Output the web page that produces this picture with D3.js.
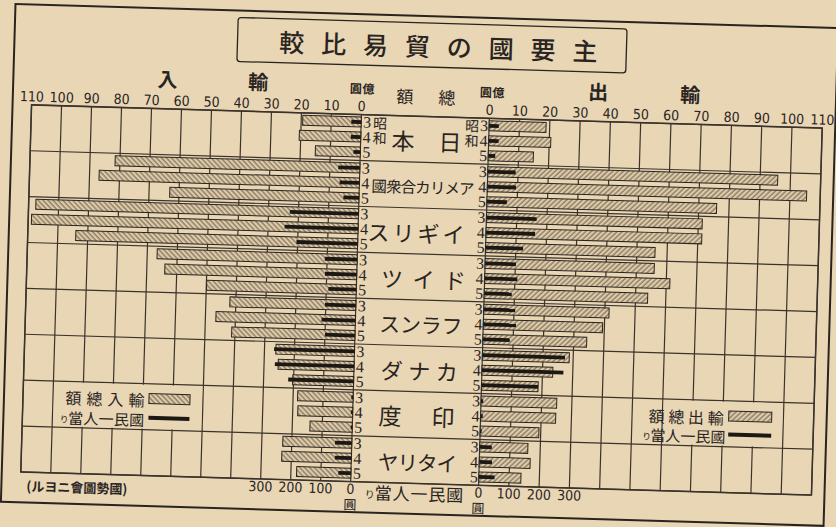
<!DOCTYPE html>
<html><head><meta charset="utf-8">
<script src="https://cdn.jsdelivr.net/npm/d3@7"></script>
<style>body{margin:0;background:#e8d6b5;} svg{display:block}</style>
</head><body><svg id="c" width="836" height="527"></svg>
<script>
// ---------- DATA ----------
const countries = ["本日","國衆合カリメア","スリギイ","ツイド","スンラフ","ダナカ","度印","ヤリタイ"];
const years = ["3","4","5"];
// 輸入總額 (億圓)
const importTotal = [[19.5,20.5,15.0],[81.6,86.8,63.1],[107.6,108.9,94.0],[66.7,64.0,49.9],[42.0,46.5,41.1],[26.2,25.3,20.3],[18.5,18.3,14.1],[23.0,23.2,18.1]];
// 輸出總額 (億圓)
const exportTotal = [[18.8,20.5,14.9],[95.8,105.5,75.9],[71.3,71.3,56.0],[55.9,61.2,54.0],[41.4,39.4,34.3],[28.7,23.4,18.7],[25.0,24.8,19.4],[15.9,16.8,13.9]];
// 國民一人當り (圓)
const importPerCap = [[33,33,23],[72,66,52],[229,245,204],[108,106,93],[103,113,100],[268,264,218],[6,6,5],[56,55,42]];
const exportPerCap = [[32,33,23],[92,95,66],[166,162,124],[102,108,91],[104,108,89],[273,269,187],[7,7,5],[40,42,52]];
const totalTicks = [0,10,20,30,40,50,60,70,80,90,100,110];
const perCapTicks = [0,100,200,300];

// ---------- LAYOUT ----------
const W=836,H=527, paper="#e8d6b5", ink="#2a241f", grid="#3b332b";
const plotTop=116.4, plotBot=483.6, plotL=26, plotR=817, zeroL=356, zeroR=484;
const jp='"Noto Sans CJK JP","Noto Sans CJK TC",sans-serif';
const num='"DejaVu Sans Condensed","DejaVu Sans",sans-serif';
const serif='"Liberation Serif","DejaVu Serif",serif';

const svg=d3.select("#c");
svg.append("rect").attr("width",W).attr("height",H).attr("fill",paper);
const defs=svg.append("defs");
function hatch(id,angle){
  const p=defs.append("pattern").attr("id",id).attr("patternUnits","userSpaceOnUse")
    .attr("width",3.6).attr("height",3.6).attr("patternTransform",`rotate(${angle})`);
  p.append("rect").attr("width",3.6).attr("height",3.6).attr("fill","#dfcba8");
  p.append("line").attr("x1",1).attr("x2",1).attr("y1",0).attr("y2",3.6).attr("stroke","#5d5144").attr("stroke-width",0.9);
}
hatch("hL",-45); hatch("hR",45);

const g=svg.append("g").attr("transform","rotate(1.68 422 300)");

const xL=d3.scaleLinear().domain([0,110]).range([zeroL,plotL]);
const xR=d3.scaleLinear().domain([0,110]).range([zeroR,plotR]);
const pcL=d3.scaleLinear().domain([0,1100]).range([zeroL,plotL]);
const pcR=d3.scaleLinear().domain([0,1100]).range([zeroR,plotR]);
const yG=d3.scaleBand().domain(countries).range([plotTop,plotBot]);
const yY=d3.scaleBand().domain(years).range([2.5,42.5]).paddingInner(0.333);

// outer frame & title box
g.append("rect").attr("x",7).attr("y",16).attr("width",823).attr("height",498)
  .attr("fill","none").attr("stroke",ink).attr("stroke-width",2);
g.append("rect").attr("x",230).attr("y",23).attr("width",389).attr("height",44).attr("rx",3)
  .attr("fill","none").attr("stroke",ink).attr("stroke-width",1.3);

function spaced(parent,str,cx,cy,sp,size,opts={}){
  const chars=[...str];
  parent.append("g").selectAll("text").data(chars).join("text")
    .attr("x",(d,i)=>cx+(i-(chars.length-1)/2)*sp).attr("y",cy)
    .attr("text-anchor","middle").attr("dominant-baseline","central")
    .style("font-family",opts.family||jp).style("font-size",size+"px")
    .style("font-weight",opts.weight||400).attr("fill",ink).text(d=>d);
}
spaced(g,"較比易貿の國要主",431,45,41.9,25,{weight:500});

// gridlines
const gridG=g.append("g").attr("stroke",grid).attr("stroke-width",1.2);
const gt=totalTicks.filter(d=>d>0);
gridG.selectAll(".vl").data(gt).join("line").attr("x1",d=>xL(d)).attr("x2",d=>xL(d)).attr("y1",plotTop).attr("y2",plotBot);
gridG.selectAll(".vr").data(gt).join("line").attr("x1",d=>xR(d)).attr("x2",d=>xR(d)).attr("y1",plotTop).attr("y2",plotBot);
gridG.selectAll(".vz").data([xL(0),xR(0)]).join("line").attr("x1",d=>d).attr("x2",d=>d).attr("y1",plotTop).attr("y2",plotBot);
gridG.selectAll(".h").data(countries.map(c=>yG(c)).concat([plotBot])).join("line")
  .attr("x1",plotL).attr("x2",plotR).attr("y1",d=>d).attr("y2",d=>d);
g.append("rect").attr("x",plotL).attr("y",plotTop).attr("width",plotR-plotL).attr("height",plotBot-plotTop)
  .attr("fill","none").attr("stroke",grid).attr("stroke-width",1.5);

// legend blank areas (India row)
const legRow=yG(countries[6]);
g.append("rect").attr("x",xL(100)+1).attr("y",legRow+1).attr("width",xL(50)-xL(100)-2).attr("height",yG.bandwidth()-2).attr("fill",paper);
g.append("rect").attr("x",xR(60)+1).attr("y",legRow+1).attr("width",xR(100)-xR(60)-2).attr("height",yG.bandwidth()-2).attr("fill",paper);

// bars
const bh=yY.bandwidth();
countries.forEach((c,ci)=>{
  const row=g.append("g").attr("transform",`translate(0,${yG(c)})`);
  row.selectAll(".bl").data(importTotal[ci]).join("rect")
    .attr("x",d=>xL(d)).attr("width",d=>zeroL-xL(d)).attr("y",(d,i)=>yY(years[i])).attr("height",bh)
    .attr("fill","url(#hL)").attr("stroke",ink).attr("stroke-width",1);
  row.selectAll(".br").data(exportTotal[ci]).join("rect")
    .attr("x",zeroR).attr("width",d=>xR(d)-zeroR).attr("y",(d,i)=>yY(years[i])).attr("height",bh)
    .attr("fill","url(#hR)").attr("stroke",ink).attr("stroke-width",1);
  row.selectAll(".pl").data(importPerCap[ci]).join("line")
    .attr("x1",zeroL).attr("x2",d=>pcL(d)).attr("y1",(d,i)=>yY(years[i])+bh/2).attr("y2",(d,i)=>yY(years[i])+bh/2)
    .attr("stroke","#1c1814").attr("stroke-width",3.8);
  row.selectAll(".pr").data(exportPerCap[ci]).join("line")
    .attr("x1",zeroR).attr("x2",d=>pcR(d)).attr("y1",(d,i)=>yY(years[i])+bh/2).attr("y2",(d,i)=>yY(years[i])+bh/2)
    .attr("stroke","#1c1814").attr("stroke-width",3.8);
  // year digits
  row.selectAll(".yl").data(years).join("text").attr("x",362).attr("y",d=>yY(d)+bh/2)
    .attr("text-anchor","middle").attr("dominant-baseline","central")
    .style("font-family",serif).style("font-size","16px").attr("fill",ink).text(d=>d);
  row.selectAll(".yr").data(years).join("text").attr("x",479).attr("y",d=>yY(d)+bh/2)
    .attr("text-anchor","middle").attr("dominant-baseline","central")
    .style("font-family",serif).style("font-size","16px").attr("fill",ink).text(d=>d);
});
// 昭和 markers for the first group
const jg=yG(countries[0]);
[["昭",years[0]],["和",years[1]]].forEach(([ch,y])=>{
  g.append("text").attr("x",375).attr("y",jg+yY(y)+bh/2).attr("text-anchor","middle").attr("dominant-baseline","central")
    .style("font-family",jp).style("font-size","14px").attr("fill",ink).text(ch);
  g.append("text").attr("x",467).attr("y",jg+yY(y)+bh/2).attr("text-anchor","middle").attr("dominant-baseline","central")
    .style("font-family",jp).style("font-size","14px").attr("fill",ink).text(ch);
});

// country labels (layout only)
const labCx=[421.8,419.7,414,422.8,421.6,421.3,419.9,422.2];
const labSp=[47,14.6,25,31.5,20.7,27.5,53,19.5];
const labSz=[23,15.5,22,22,21,22,23,20.5];
countries.forEach((c,i)=>spaced(g,c,labCx[i],yG(c)+yG.bandwidth()/2+1,labSp[i],labSz[i]));

// top tick labels
g.selectAll(".tl").data(totalTicks).join("text").attr("x",d=>xL(d)).attr("y",108)
  .attr("text-anchor","middle").attr("dominant-baseline","central")
  .style("font-family",num).style("font-size","14px").attr("fill",ink).text(d=>d);
g.selectAll(".tr").data(totalTicks).join("text").attr("x",d=>xR(d)).attr("y",108)
  .attr("text-anchor","middle").attr("dominant-baseline","central")
  .style("font-family",num).style("font-size","14px").attr("fill",ink).text(d=>d);
// bottom per-capita labels
g.selectAll(".bl2").data(perCapTicks).join("text").attr("x",d=>pcL(d)).attr("y",491)
  .attr("text-anchor","middle").attr("dominant-baseline","central")
  .style("font-family",num).style("font-size","14px").attr("fill",ink).text(d=>d);
g.selectAll(".br2").data(perCapTicks).join("text").attr("x",d=>pcR(d)).attr("y",491)
  .attr("text-anchor","middle").attr("dominant-baseline","central")
  .style("font-family",num).style("font-size","14px").attr("fill",ink).text(d=>d);
[pcL(0),pcR(0)].forEach(x=>g.append("text").attr("x",x).attr("y",506).attr("text-anchor","middle").attr("dominant-baseline","central")
  .style("font-family",jp).style("font-size","13px").attr("fill",ink).text("圓"));

// axis titles
spaced(g,"入",161,86,0,20,{weight:700});
spaced(g,"輸",252,86,0,20,{weight:700});
spaced(g,"出",592,86,0,20,{weight:700});
spaced(g,"輸",684,86,0,20,{weight:700});
spaced(g,"額",399,96,0,17);
spaced(g,"總",441,96,0,17);
spaced(g,"圓億",356,89.5,12.5,12,{weight:700});
spaced(g,"圓億",486,89.5,12.5,12,{weight:700});

// per-capita caption
function perCapCaption(cx0,cy,sp,size){
  g.append("text").attr("x",cx0-sp*0.75).attr("y",cy+2).attr("text-anchor","middle").attr("dominant-baseline","central")
    .style("font-family",jp).style("font-size",(size*0.6)+"px").attr("fill",ink).text("り");
  spaced(g,"當人一民國",cx0+sp*2,cy,sp,size);
}
perCapCaption(388.9,493,17.9,17);

// legends
g.append("rect").attr("x",152).attr("y",401.5).attr("width",41).attr("height",10).attr("fill","url(#hL)").attr("stroke",ink).attr("stroke-width",1);
g.append("line").attr("x1",152).attr("x2",193).attr("y1",425.7).attr("y2",425.7).attr("stroke","#1c1814").attr("stroke-width",4);
spaced(g,"額總入輸",108,407.5,21,16);
perCapCaption(79.2,427.5,15.25,15);

g.append("rect").attr("x",732).attr("y",402).attr("width",43).attr("height",10).attr("fill","url(#hR)").attr("stroke",ink).attr("stroke-width",1);
g.append("line").attr("x1",732).attr("x2",775).attr("y1",425.4).attr("y2",425.4).attr("stroke","#1c1814").attr("stroke-width",4);
spaced(g,"額總出輸",689.5,408.5,19.7,16);
perCapCaption(661.8,427.5,15,15);

// source note
g.append("text").attr("x",82.5).attr("y",497).attr("text-anchor","middle").attr("dominant-baseline","central")
  .style("font-family",jp).style("font-size","13px").style("font-weight",700).attr("fill",ink).text("(ルヨニ會圖勢國)");
</script>
</body></html>
